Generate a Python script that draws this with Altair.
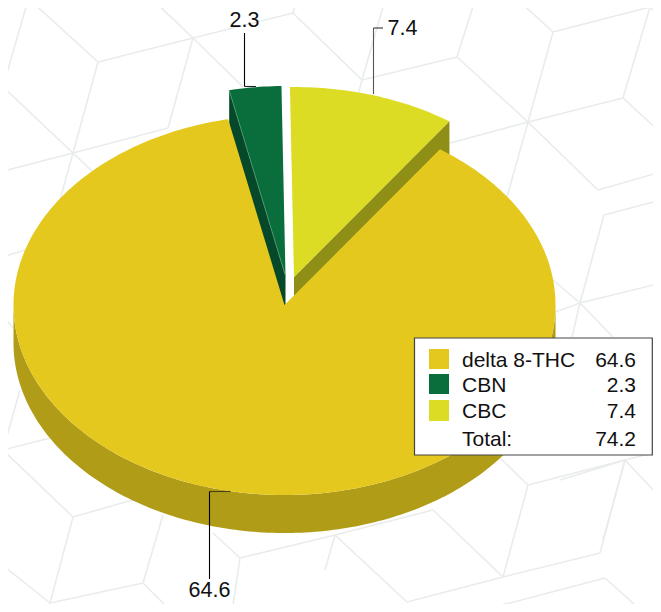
import math
import altair as alt
import pandas as pd

# ---- chart values
names = ["delta 8-THC", "CBN", "CBC"]
values = [64.6, 2.3, 7.4]
value_labels = ["64.6", "2.3", "7.4"]
total_label = "74.2"
top_colors = ["#E4C81E", "#0A6E3C", "#DDDC24"]
wall_colors = ["#B09C16", "#05482A", "#8F8E17"]
first_angle = 35.0
slice_centers = [(284.5, 305.0), (285.5, 276.0), (294.0, 277.0)]
RX, RY, DEPTH = 271.0, 190.0, 38.0

# faint cube pattern behind the chart
pattern = [
    (30,0,98,62),(98,62,193,38),(98,62,73,153),(193,38,153,0),(193,38,293,13),(193,38,168,128),(193,38,243,87),
    (293,13,296,0),(293,13,362,80),(362,80,457,57),(362,80,385,0),(362,80,340,160),(457,57,475,0),(457,57,528,122),
    (528,122,553,32),(528,122,450,143),(528,122,623,98),(528,122,507,197),(528,122,598,190),(553,32,518,0),(553,32,650,7),
    (650,7,642,0),(650,7,661,3),(650,7,623,98),(650,7,661,18),(623,98,661,133),(598,190,661,172),
    (3,87,28,0),(3,87,73,153),(73,153,168,128),(73,153,0,172),(73,153,60,200),(73,153,110,188),
    (604,215,661,200),(604,215,580,303),(580,303,555,312),(580,303,661,283),(580,303,553,280),(580,303,613,337),(580,303,572,337),
    (625,460,560,480),(625,460,661,451),(625,460,603,540),(625,460,661,498),
    (528,485,500,458),(528,485,625,460),(528,485,503,577),(503,577,433,510),(503,577,600,553),(503,577,407,602),
    (433,510,335,535),(600,553,625,460),(407,602,335,535),(335,535,240,558),(335,535,325,570),
    (605,578,510,603),(510,603,465,612),(510,603,505,612),(605,578,643,612),
    (73,517,3,450),(73,517,143,497),(73,517,50,603),(50,603,143,583),(50,603,0,563),(50,603,46,612),(143,583,163,515),(143,583,172,612),
    (240,558,213,533),(240,558,232,612),(3,450,50,438),(3,450,20,390),(0,313,13,328),(0,258,25,250),(0,455,3,450),
]
text_font = "Liberation Sans"

xs = alt.Scale(domain=[8, 653], nice=False, zero=False)
ys = alt.Scale(domain=[604, 8], nice=False, zero=False)
X = alt.X("x:Q", scale=xs, axis=None)
Y = alt.Y("y:Q", scale=ys, axis=None)
X2 = alt.X2("x2:Q")
Y2 = alt.Y2("y2:Q")


def ell(c, deg, dy=0.0):
    t = math.radians(deg)
    return c[0] + RX * math.sin(t), c[1] - RY * math.cos(t) + dy


def poly(pts, color, **kw):
    df = pd.DataFrame([{"x": p[0], "y": p[1], "i": i} for i, p in enumerate(pts)])
    return alt.Chart(df).mark_line(filled=True, fill=color, strokeWidth=0, interpolate="linear-closed", clip=True, **kw).encode(
        x=X, y=Y, order="i:Q")


def arc(c, a, b, dy=0.0):
    n = max(2, int(abs(b - a)) + 1)
    return [ell(c, a + (b - a) * k / n, dy) for k in range(n + 1)]


total = sum(values)
spans = []
a = first_angle
for v in values:
    spans.append((a, a + v / total * 360.0))
    a = spans[-1][1]

layers = []
layers.append(alt.Chart(pd.DataFrame(pattern, columns=["x", "y", "x2", "y2"])).mark_rule(
    color="#E9ECEC", strokeWidth=1.6).encode(x=X, y=Y, x2=X2, y2=Y2))

# side walls
c0, c1, c2 = slice_centers
layers.append(poly(arc(c0, 90, 270) + arc(c0, 270, 90, DEPTH), wall_colors[0]))
e = ell(c2, spans[2][1])
layers.append(poly([c2, e, (e[0], e[1] + DEPTH), (c2[0], c2[1] + DEPTH)], wall_colors[2]))
s = ell(c1, spans[1][0])
layers.append(poly([c1, s, (s[0], s[1] + DEPTH), (c1[0], c1[1] + DEPTH)], wall_colors[1]))

# top faces
layers.append(poly([c2] + arc(c2, *spans[2]), top_colors[2]))
layers.append(poly([c1] + arc(c1, *spans[1]), top_colors[1]))
layers.append(alt.Chart(pd.DataFrame([{"x": c1[0], "y": c1[1], "x2": s[0], "y2": s[1]}])).mark_rule(
    color="#4C9A70", strokeWidth=0.8).encode(x=X, y=Y, x2=X2, y2=Y2))
layers.append(poly([c0] + arc(c0, *spans[0]), top_colors[0]))

# leader lines
leaders = pd.DataFrame(
    [
        (209.5, 491.5, 230.5, 491.5, "#4A4210"),
        (209.5, 491.5, 209.5, 579.0, "#000000"),
        (244.5, 33.0, 244.5, 86.5, "#000000"),
        (244.5, 86.5, 256.0, 86.5, "#222222"),
        (373.5, 28.0, 373.5, 94.0, "#555555"),
        (373.5, 28.0, 383.0, 28.0, "#333333"),
    ],
    columns=["x", "y", "x2", "y2", "c"],
)
layers.append(alt.Chart(leaders).mark_rule(strokeWidth=1.1).encode(
    x=X, y=Y, x2=X2, y2=Y2, color=alt.Color("c:N", scale=None)))

lab = pd.DataFrame({"x": [209.5, 244.5, 402.5], "y": [591.0, 21.0, 29.0], "t": value_labels})
layers.append(alt.Chart(lab).mark_text(font=text_font, fontSize=21.5, color="#111111", align="center", baseline="middle").encode(
    x=X, y=Y, text="t:N"))

# legend box
layers.append(alt.Chart(pd.DataFrame([{"x": 414.5, "x2": 652.3, "y": 338, "y2": 455}])).mark_rect(
    fill="white", stroke="#444444", strokeWidth=1.2).encode(x=X, x2=X2, y=Y, y2=Y2))
sw = pd.DataFrame({"x": [429] * 3, "x2": [449] * 3, "y": [349, 374, 400], "y2": [369, 394, 421], "c": top_colors})
layers.append(alt.Chart(sw).mark_rect().encode(x=X, x2=X2, y=Y, y2=Y2, color=alt.Color("c:N", scale=None)))
rows_y = [360.5, 385.5, 411.5, 439.5]
leg_names = pd.DataFrame({"x": [462] * 4, "y": rows_y, "t": names + ["Total:"]})
layers.append(alt.Chart(leg_names).mark_text(font=text_font, fontSize=21, color="#111111", align="left", baseline="middle").encode(
    x=X, y=Y, text="t:N"))
leg_vals = pd.DataFrame({"x": [636] * 4, "y": rows_y, "t": value_labels + [total_label]})
layers.append(alt.Chart(leg_vals).mark_text(font=text_font, fontSize=21, color="#111111", align="right", baseline="middle").encode(
    x=X, y=Y, text="t:N"))

chart = alt.layer(*layers).properties(
    width=645, height=596, padding=0, background="white",
    autosize=alt.AutoSizeParams(type="none"),
).configure_view(stroke=None)

chart.save("out.html", embed_options={"renderer": "svg", "actions": False})
